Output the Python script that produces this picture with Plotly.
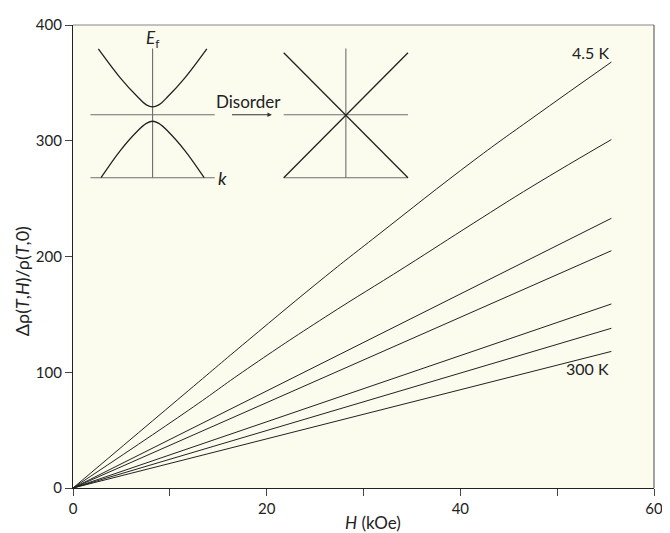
import plotly.graph_objects as go

# ---- main data ----
H_curved = [0, 11.9, 18.0, 26.1, 31.4, 41.4, 47.5, 55.6]
rho_45K = [0, 84, 127, 183, 218, 283, 320, 368]
H_curved2 = [0, 11.9, 18.0, 26.1, 34.3, 41.4, 47.5, 55.6]
rho_2 = [0, 67, 103, 148, 191, 229, 261, 301]
H_ends = [0, 55.6]
rho_3 = [0, 233]
rho_4 = [0, 205]
rho_5 = [0, 159]
rho_6 = [0, 138]
rho_300K = [0, 118]

x_ticks = [0, 10, 20, 30, 40, 50, 60]
x_ticklabels = ["0", "", "20", "", "40", "", "60"]
y_ticks = [0, 100, 200, 300, 400]
y_ticklabels = ["0", "100", "200", "300", "400"]

# ---- inset schematic (inset units) ----
upper_k = [-0.873, -0.52, -0.25, -0.1, 0, 0.1, 0.25, 0.52, 0.873]
upper_E = [1.07, 0.60, 0.30, 0.16, 0.127, 0.16, 0.30, 0.60, 1.07]
lower_k = [-0.83, -0.52, -0.25, -0.1, 0, 0.1, 0.25, 0.52, 0.83]
lower_E = [-1.02, -0.58, -0.27, -0.14, -0.105, -0.14, -0.27, -0.58, -1.02]
left_center = 0.0
right_center = 3.111
axis_top = 1.075
axis_bot = -1.02
half_w = 1.0
dirac_top = 1.006

FONT = "Lato"
LINE = "#222222"
GREY = "#6e6e6e"

fig = go.Figure()

series = [
    (H_curved, rho_45K), (H_curved2, rho_2), (H_ends, rho_3), (H_ends, rho_4),
    (H_ends, rho_5), (H_ends, rho_6), (H_ends, rho_300K),
]
for hx, ry in series:
    fig.add_trace(go.Scatter(x=hx, y=ry, mode="lines",
                             line=dict(color=LINE, width=1, shape="spline", smoothing=1.3),
                             showlegend=False, hoverinfo="skip"))

# inset traces
def inset_line(xs, ys, color, width=1.1, shape="linear"):
    fig.add_trace(go.Scatter(x=xs, y=ys, xaxis="x2", yaxis="y2", mode="lines",
                             line=dict(color=color, width=width, shape=shape),
                             showlegend=False, hoverinfo="skip"))

for c in (left_center, right_center):
    inset_line([c, c], [axis_top, axis_bot], GREY)
    inset_line([c - half_w, c + half_w], [0, 0], GREY)
    inset_line([c - half_w, c + half_w], [axis_bot, axis_bot], GREY)

inset_line([left_center + k for k in upper_k], upper_E, LINE, 1.3, "spline")
inset_line([left_center + k for k in lower_k], lower_E, LINE, 1.3, "spline")
inset_line([right_center - half_w, right_center + half_w], [dirac_top, axis_bot], LINE, 1.3)
inset_line([right_center + half_w, right_center - half_w], [dirac_top, axis_bot], LINE, 1.3)

annotations = [
    dict(x=55.6, y=376.6, xref="x", yref="y", text="4.5 K", showarrow=False,
         xanchor="right", yanchor="middle", font=dict(size=16, color="#222")),
    dict(x=55.6, y=103.0, xref="x", yref="y", text="300 K", showarrow=False,
         xanchor="right", yanchor="middle", font=dict(size=16, color="#222")),
    dict(x=-0.0876, y=0.447, xref="paper", yref="paper",
         text="Δρ(<i>T</i>,<i>H</i>)/ρ(<i>T</i>,0)", textangle=-90, showarrow=False,
         xanchor="center", yanchor="middle", font=dict(size=18, color="#222")),
    dict(x=0.516, y=-0.075, xref="paper", yref="paper", text="<i>H</i> (kOe)",
         showarrow=False, xanchor="center", yanchor="middle", font=dict(size=17, color="#222")),
    dict(x=left_center, y=1.233, xref="x2", yref="y2", text="<i>E</i><sub>f</sub>",
         showarrow=False, xanchor="center", yanchor="middle", font=dict(size=17, color="#222")),
    dict(x=1.13, y=axis_bot, xref="x2", yref="y2", text="<i>k</i>",
         showarrow=False, xanchor="center", yanchor="middle", font=dict(size=18, color="#222")),
    dict(x=1.55, y=0.213, xref="x2", yref="y2", text="Disorder",
         showarrow=False, xanchor="center", yanchor="middle", font=dict(size=17, color="#222")),
    dict(x=1.92, y=0, ax=1.254, ay=0, xref="x2", yref="y2", axref="x2", ayref="y2",
         text="", showarrow=True, arrowhead=2, arrowsize=0.8, arrowwidth=1.1,
         arrowcolor="#333"),
]

# page body has an 8px default margin; size the figure to fit the 670x533 window
fig.update_layout(
    width=662, height=525,
    margin=dict(l=65.3, r=7.5, t=7, b=45),
    paper_bgcolor="white",
    plot_bgcolor="#fbfbee",
    font=dict(family=FONT, size=15, color="#222"),
    showlegend=False,
    annotations=annotations,
    xaxis=dict(range=[0, 60], tickvals=x_ticks, ticktext=x_ticklabels,
               ticks="outside", ticklen=7, tickwidth=1, tickcolor="#444",
               showline=True, linecolor="#222", linewidth=1.3, showgrid=False,
               zeroline=False, mirror=False, ticklabeloverflow="allow",
               tickfont=dict(size=15, color="#222")),
    yaxis=dict(range=[0, 400], tickvals=y_ticks, ticktext=y_ticklabels,
               ticks="outside", ticklen=7, tickwidth=1, tickcolor="#444",
               showline=True, linecolor="#222", linewidth=1.3, showgrid=False,
               zeroline=False, mirror=False, ticklabeloverflow="allow",
               tickfont=dict(size=15, color="#222")),
    xaxis2=dict(overlaying="x", range=[-1.281, 8.071], visible=False, fixedrange=True),
    yaxis2=dict(overlaying="y", range=[-6.052, 1.456], visible=False, fixedrange=True),
    shapes=[
        dict(type="line", xref="paper", yref="paper", x0=0, x1=1, y0=1, y1=1,
             line=dict(color="#888", width=1.2)),
        dict(type="line", xref="paper", yref="paper", x0=1, x1=1, y0=0, y1=1,
             line=dict(color="#666", width=1.2)),
    ],
)

fig.write_html("out.html")
